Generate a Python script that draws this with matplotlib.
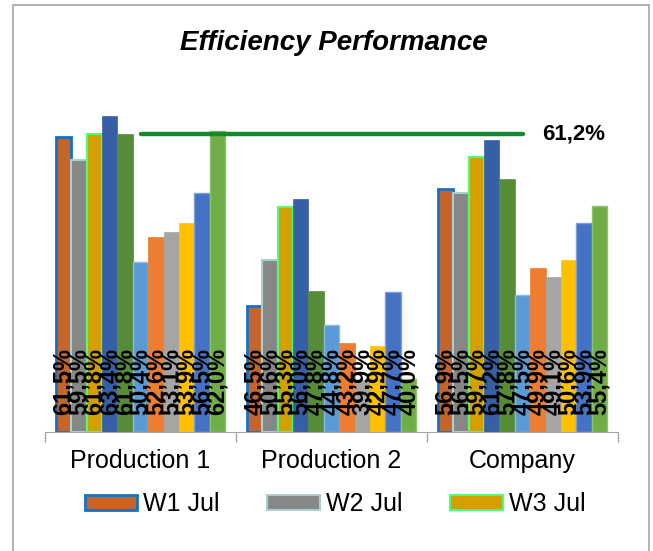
import matplotlib.pyplot as plt
from matplotlib.patches import Rectangle

plt.rcParams['font.family'] = ['Liberation Sans', 'DejaVu Sans']

categories = ['Production 1', 'Production 2', 'Company']
series = ['W1 Jul', 'W2 Jul', 'W3 Jul', 'W4 Jul', 'W5 Jul', 'W1 Aug',
          'W2 Aug', 'W3 Aug', 'W4 Aug', 'W1 Sep', 'W2 Sep']
prod1 = [61.5, 59.5, 61.8, 63.4, 61.8, 50.4, 52.6, 53.1, 53.9, 56.5, 62.0]
prod2 = [46.5, 50.6, 55.3, 56.0, 47.8, 44.8, 43.2, 39.9, 42.9, 47.7, 40.0]
company = [56.9, 56.5, 59.7, 61.2, 57.8, 47.5, 49.9, 49.1, 50.6, 53.9, 55.4]
target = 61.2

colors = ['#C5652B', '#878787', '#D4A000', '#365FA6', '#568B38', '#5B9BD5',
          '#ED7D31', '#A5A5A5', '#FFC000', '#4472C4', '#70AD47']
edges = ['#1273C4', '#A9D0D0', '#4CFF70', '#365FA6', '#568B38', '#8DB9E6',
         '#ED7D31', '#A5A5A5', '#FFC000', '#7E9ED8', '#8CC26C']
edge_w = [2.0, 1.5, 1.5, 0.5, 0.5, 1, 0.5, 0.5, 0.5, 1, 1]

ymin, ymax = 35.3, 65.0

fig = plt.figure(figsize=(6.53, 5.51), dpi=100)
ax = fig.add_axes([45/653, (551-432)/551, 573/653, (432-97.6)/551])

values = list(zip(prod1, prod2, company))
n = len(series)
w = 15.4/191
x = [0, 1, 2]
for i in range(n):
    offs = (i - (n-1)/2) * w
    xs = [c + offs for c in x]
    hs = [v - ymin for v in values[i]]
    ax.bar(xs, hs, width=w, bottom=ymin, color=colors[i], edgecolor=edges[i],
           linewidth=edge_w[i], label=series[i] if i < 3 else None, zorder=2)
    for xx, v in zip(xs, values[i]):
        ax.text(xx, ymin + 1.5, ('%.1f%%' % v).replace('.', ','), rotation=90,
                ha='center', va='bottom', fontsize=17, fontweight='bold', zorder=4)

# target line sits on its own (secondary) scale, like the original chart
ax2 = ax.twinx()
ax2.set_ylim(ymin - 0.57, ymax - 0.57)
ax2.plot(x, [target]*3, color='#138A2E', lw=3.2, zorder=3, solid_capstyle='round')
ax2.annotate(('%.1f%%' % target).replace('.', ','), xy=(2, target), xytext=(14, 0),
             textcoords='offset points', va='center', ha='left',
             fontsize=16, fontweight='bold')
ax2.axis('off')

ax.set_xlim(-0.5, 2.5)
ax.set_ylim(ymin, ymax)
for s in ['top', 'right', 'left']:
    ax.spines[s].set_visible(False)
ax.spines['bottom'].set_color('#A6A6A6')
ax.set_yticks([])
ax.set_xticks(x)
ax.set_xticklabels(categories, fontsize=18)
ax.tick_params(axis='x', which='major', length=0, pad=12)
ax.set_xticks([-0.5, 0.5, 1.5, 2.5], minor=True)
ax.tick_params(axis='x', which='minor', length=7, color='#A6A6A6', width=1)
ax.patch.set_visible(False)

fig.text(334/653, 1-43/551, 'Efficiency Performance', ha='center', va='center',
         fontsize=20, fontweight='bold', fontstyle='italic')

fig.legend(loc='center', bbox_to_anchor=(0.513, 0.085), ncol=3, frameon=False,
           fontsize=18, handlelength=2.1, handleheight=0.56, handletextpad=0.25,
           columnspacing=1.9)

fig.patches.append(Rectangle((13/653, -0.1), (649-13)/653, 1 - 5/551 + 0.1,
                             transform=fig.transFigure, fill=False,
                             edgecolor='#A6A6A6', lw=1.2))

fig.savefig('out.png', dpi=100)
